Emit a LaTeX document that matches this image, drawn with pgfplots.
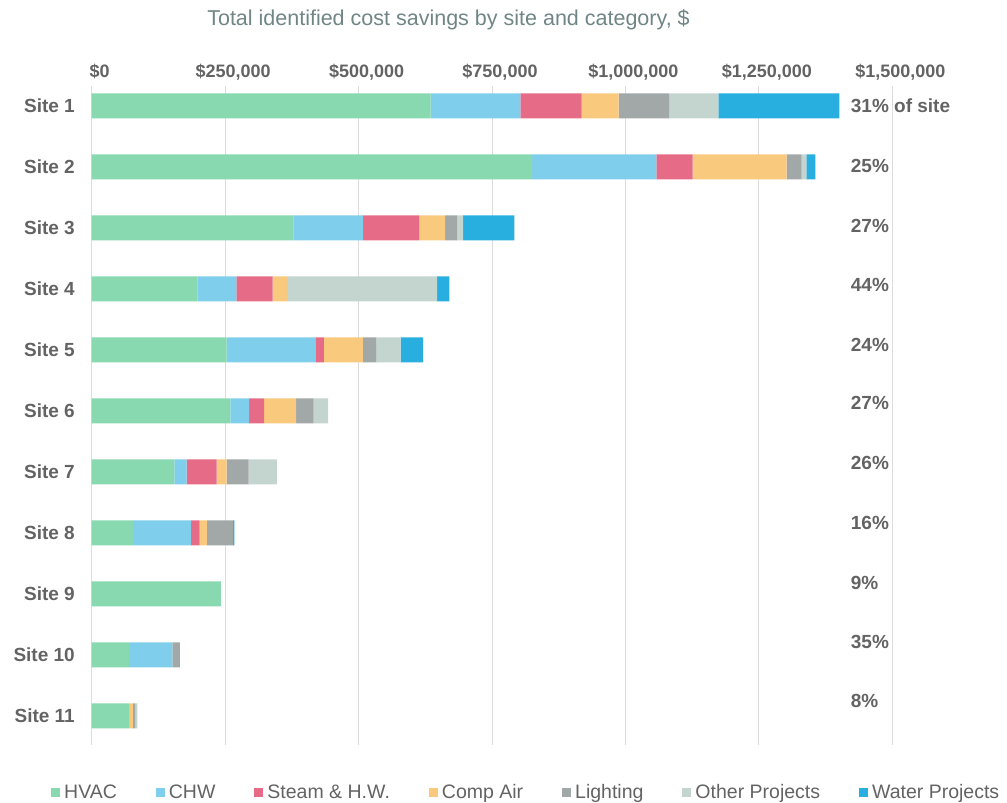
\documentclass[border=0pt]{standalone}
\usepackage{pgfplots}
\usepackage{pgfplotstable}
\pgfplotsset{compat=1.18}
\usepackage{fontspec}
\setmainfont{Liberation Sans}
\definecolor{cHVAC}{HTML}{88D8B0}
\definecolor{cCHW}{HTML}{7FCEEC}
\definecolor{cSteam}{HTML}{E56B86}
\definecolor{cComp}{HTML}{F9C97D}
\definecolor{cLight}{HTML}{A2A7A7}
\definecolor{cOther}{HTML}{C4D4CE}
\definecolor{cWater}{HTML}{29AEE0}
\definecolor{txt}{HTML}{636363}
\definecolor{titlec}{HTML}{708585}
\definecolor{gridc}{HTML}{DCDCDC}
\tikzset{pct/.style={anchor=west, inner sep=0pt, text=txt, font=\bfseries\fontsize{19bp}{22bp}\selectfont}}

\pgfplotstableread{
site hvac chw steam comp light other water
1 635000 168000 115000 69000 95000 92000 227000
2 825000 233000 68000 176000 28000 9000 17000
3 378000 130000 106000 48000 23000 11000 96000
4 198000 73000 68000 27000 0 281000 23000
5 253000 166000 16000 73000 25000 46000 42000
6 260000 35000 28000 60000 33000 27000 0
7 155000 23000 56000 19000 41000 53000 0
8 77000 109000 16000 14000 49000 0 2500
9 242000 0 0 0 0 0 0
10 70000 81000 0 0 14000 0 0
11 70000 0 0 7000 4300 4300 0
}\costdata

\begin{document}
\begin{tikzpicture}
\useasboundingbox (0,0) rectangle (1007bp,-803bp);
\node[anchor=base, text=titlec, font=\fontsize{21.5bp}{25bp}\selectfont, inner sep=0pt] at (448.5bp,-25bp) {Total identified cost savings by site and category, \$};
\begin{axis}[
  at={(91.7bp,-86bp)}, anchor=north west,
  scale only axis, width=800.6bp, height=659bp,
  xbar stacked, bar width=25bp,
  xmin=0, xmax=1500000,
  ymin=0.675, ymax=11.479, y dir=reverse,
  ytick={1,...,11},
  yticklabels={Site 1,Site 2,Site 3,Site 4,Site 5,Site 6,Site 7,Site 8,Site 9,Site 10,Site 11},
  xtick={0,250000,500000,750000,1000000,1250000,1500000},
  xticklabels={{\$0},{\$250,000},{\$500,000},{\$750,000},{\$1,000,000},{\$1,250,000},{\$1,500,000}},
  scaled x ticks=false,
  xticklabel pos=top,
  xmajorgrids, ymajorgrids=false,
  grid style={gridc, line width=1bp},
  axis line style={draw=none},
  major tick length=0pt,
  xticklabel style={font=\bfseries\fontsize{18bp}{21bp}\selectfont, text=txt, anchor=base, yshift=9bp, xshift=8bp, inner sep=0pt},
  yticklabel style={font=\bfseries\fontsize{19bp}{22bp}\selectfont, text=txt, anchor=east, xshift=-16.7bp, inner sep=0pt},
  clip=false,
  legend columns=7,
  legend image code/.code={\fill[#1] (0bp,-4.5bp) rectangle (9bp,4.5bp);},
  legend style={at={(axis description cs:-0.0546,-0.072)}, anchor=west, draw=none, fill=none,
    font=\fontsize{19.5bp}{22bp}\selectfont, text=txt,
    nodes={inner sep=0pt},
    /tikz/every odd column/.append style={column sep=4bp},
    /tikz/every even column/.append style={column sep=39bp}},
]
\addplot[fill=cHVAC, draw=none] table[x=hvac, y=site] {\costdata};
\addplot[fill=cCHW, draw=none] table[x=chw, y=site] {\costdata};
\addplot[fill=cSteam, draw=none] table[x=steam, y=site] {\costdata};
\addplot[fill=cComp, draw=none] table[x=comp, y=site] {\costdata};
\addplot[fill=cLight, draw=none] table[x=light, y=site] {\costdata};
\addplot[fill=cOther, draw=none] table[x=other, y=site] {\costdata};
\addplot[fill=cWater, draw=none] table[x=water, y=site] {\costdata};
\legend{HVAC,CHW,Steam \& H.W.,Comp Air,Lighting,Other Projects,Water Projects}
\node[pct] at (axis cs:1422000,1.003) {31\% of site};
\node[pct] at (axis cs:1422000,1.987) {25\%};
\node[pct] at (axis cs:1422000,2.966) {27\%};
\node[pct] at (axis cs:1422000,3.938) {44\%};
\node[pct] at (axis cs:1422000,4.92) {24\%};
\node[pct] at (axis cs:1422000,5.867) {27\%};
\node[pct] at (axis cs:1422000,6.861) {26\%};
\node[pct] at (axis cs:1422000,7.834) {16\%};
\node[pct] at (axis cs:1422000,8.818) {9\%};
\node[pct] at (axis cs:1422000,9.785) {35\%};
\node[pct] at (axis cs:1422000,10.757) {8\%};
\end{axis}
\end{tikzpicture}
\end{document}
